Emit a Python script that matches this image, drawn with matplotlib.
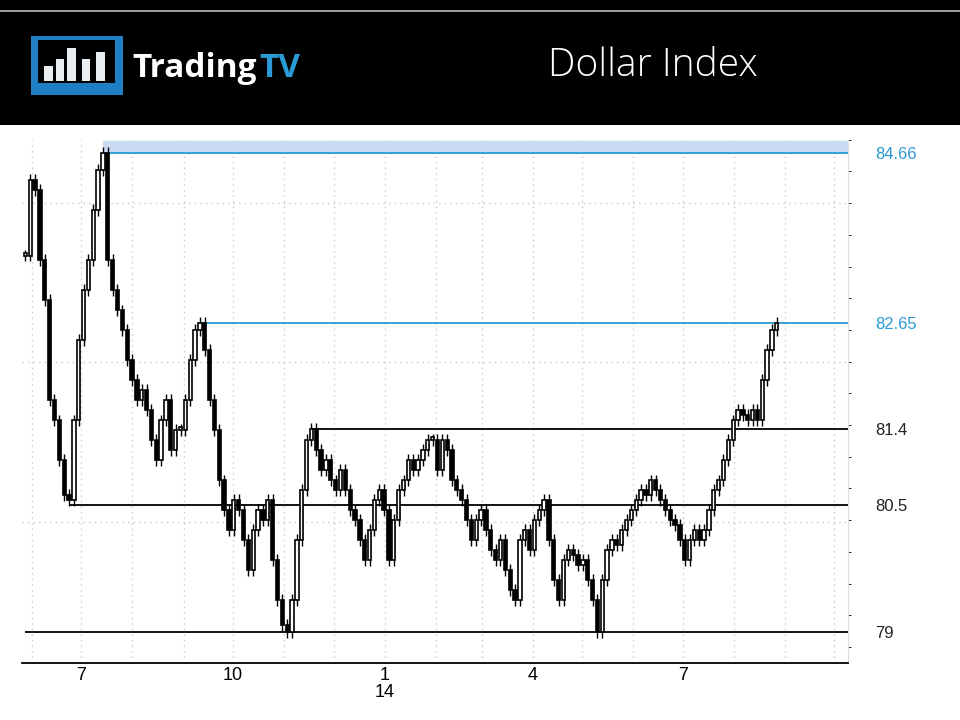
import numpy as np
import pandas as pd
import matplotlib.pyplot as plt
import matplotlib.dates as mdates
from matplotlib.patches import Rectangle

# closes, roughly every 2-3 trading days
closes = [83.45, 84.34, 84.22, 83.40, 82.92, 81.74, 81.50, 81.03, 80.62, 80.56,
          81.50, 82.45, 83.04, 83.40, 83.99, 84.46, 84.66, 83.40, 83.04, 82.80,
          82.57, 82.21, 81.98, 81.74, 81.86, 81.62, 81.27, 81.03, 81.50, 81.74,
          81.15, 81.39, 81.39, 81.74, 82.21, 82.57, 82.65, 82.33, 81.74, 81.39,
          80.79, 80.44, 80.20, 80.56, 80.44, 80.09, 79.73, 80.20, 80.44, 80.32,
          80.56, 79.85, 79.38, 79.08, 79.00, 79.38, 80.09, 80.68, 81.27, 81.40,
          81.15, 80.91, 81.03, 80.79, 80.68, 80.91, 80.68, 80.44, 80.32, 80.09,
          79.85, 80.20, 80.56, 80.68, 80.44, 79.85, 80.32, 80.68, 80.79, 81.03,
          80.91, 81.03, 81.15, 81.27, 81.27, 80.91, 81.27, 81.15, 80.79, 80.68,
          80.56, 80.32, 80.09, 80.32, 80.44, 80.20, 79.97, 79.85, 80.09, 79.73,
          79.49, 79.38, 80.09, 80.20, 79.97, 80.32, 80.44, 80.56, 80.09, 79.61,
          79.38, 79.85, 79.97, 79.91, 79.79, 79.85, 79.61, 79.38, 79.00, 79.61,
          79.97, 80.09, 80.03, 80.20, 80.32, 80.44, 80.56, 80.68, 80.62, 80.79,
          80.68, 80.56, 80.44, 80.32, 80.26, 80.09, 79.85, 80.09, 80.20, 80.09,
          80.20, 80.44, 80.68, 80.79, 81.03, 81.27, 81.50, 81.62, 81.56, 81.50,
          81.62, 81.50, 81.98, 82.33, 82.57, 82.65]
start_date, end_date = "2013-05-28", "2014-08-27"
view_start, view_end = "2013-05-26", "2014-10-09"

levels = [84.66, 82.65, 81.4, 80.5, 79]
level_labels = ["84.66", "82.65", "81.4", "80.5", "79"]
level_blue = [True, True, False, False, False]
# index of the swing each level line starts from
level_start = [16, 36, 59, 9, 0]

tick_dates = ["2013-07-01", "2013-10-01", "2014-01-01", "2014-04-01", "2014-07-01"]
tick_labels = ["7", "10", "1\n14", "4", "7"]

BLUE = "#2a9ad6"
plt.rcParams['font.family'] = ['Liberation Sans', 'DejaVu Sans']

dates = pd.date_range(start_date, end_date, periods=len(closes))
x = mdates.date2num(dates)
closes = np.array(closes)
opens = np.r_[closes[0], closes[:-1]]

fig = plt.figure(figsize=(9.6, 7.2), dpi=100)
fig.patch.set_facecolor("white")

# header band
fig.patches.append(Rectangle((0, 0.826), 1, 0.174, transform=fig.transFigure,
                             facecolor="black", zorder=0))
fig.patches.append(Rectangle((0, 0.983), 1, 0.003, transform=fig.transFigure,
                             facecolor="#9a9a9a", zorder=1))
# logo
fig.patches.append(Rectangle((0.032, 0.868), 0.096, 0.082, transform=fig.transFigure,
                             facecolor="#1f7fc4", zorder=1))
fig.patches.append(Rectangle((0.04, 0.885), 0.08, 0.06, transform=fig.transFigure,
                             facecolor="black", zorder=2))
for bx, bh in [(0.046, 0.02), (0.058, 0.03), (0.07, 0.045), (0.085, 0.03), (0.1, 0.04)]:
    fig.patches.append(Rectangle((bx, 0.888), 0.009, bh, transform=fig.transFigure,
                                 facecolor="#e8eef2", zorder=3))
fig.text(0.138, 0.905, "Trading", color="white", fontsize=24, fontweight="bold",
         va="center", ha="left", fontfamily="Open Sans")
fig.text(0.27, 0.905, "TV", color=BLUE, fontsize=24, fontweight="bold",
         va="center", ha="left", fontfamily="Open Sans")
fig.text(0.68, 0.908, "Dollar Index", color="white", fontsize=28, va="center",
         ha="center", fontfamily="Open Sans", fontweight="light")

ax = fig.add_axes([0.023, 0.079, 0.86, 0.727])
ax.set_ylim(78.63, 84.81)
xl = (mdates.date2num(pd.Timestamp(view_start)), mdates.date2num(pd.Timestamp(view_end)))
ax.set_xlim(*xl)

# dotted grid
for m in pd.date_range("2013-06-01", "2014-10-01", freq="MS"):
    ax.axvline(mdates.date2num(m), color="#c8c8c8", ls=(0, (1, 3)), lw=1, zorder=0)
for g in [84.07, 82.19, 80.3]:
    ax.axhline(g, color="#c8c8c8", ls=(0, (1, 3)), lw=1, zorder=0)

# shaded band above top level
ax.axhspan(84.66, 84.81, xmin=(x[16] - xl[0]) / (xl[1] - xl[0]),
           color="#c9daf2", zorder=0.5)

# level lines
for lv, blue, si in zip(levels, level_blue, level_start):
    ax.hlines(lv, x[si], xl[1], color=BLUE if blue else "black",
              lw=1.3, zorder=1)

# candles
w = 2.0
for xi, o, c in zip(x, opens, closes):
    lo, hi = min(o, c), max(o, c)
    h = max(hi - lo, 0.03)
    ax.vlines(xi, lo - 0.07, hi + 0.07, color="black", lw=1.0, zorder=2)
    ax.add_patch(Rectangle((xi - w / 2, lo), w, h,
                           facecolor="white" if c >= o else "black",
                           edgecolor="black", lw=1.2, zorder=3))

# axes styling
for s in ["top", "left"]:
    ax.spines[s].set_visible(False)
ax.spines["right"].set_color("#dddddd")
ax.spines["bottom"].set_color("black")
ax.spines["bottom"].set_linewidth(1.3)
ax.yaxis.tick_right()
ax.set_yticks(levels)
ax.set_yticklabels(level_labels, fontsize=12)
for t, blue in zip(ax.get_yticklabels(), level_blue):
    t.set_color(BLUE if blue else "#222222")
ax.tick_params(axis="y", length=0, pad=20)
ax.set_yticks(np.arange(84.82, 78.6, -0.375), minor=True)
ax.tick_params(axis="y", which="minor", length=2, color="black", direction="out")

ax.set_xticks(mdates.date2num(pd.to_datetime(tick_dates)))
ax.set_xticklabels(tick_labels, fontsize=13, linespacing=0.95)
ax.tick_params(axis="x", length=0, pad=3)

fig.savefig("out.png", dpi=100)
